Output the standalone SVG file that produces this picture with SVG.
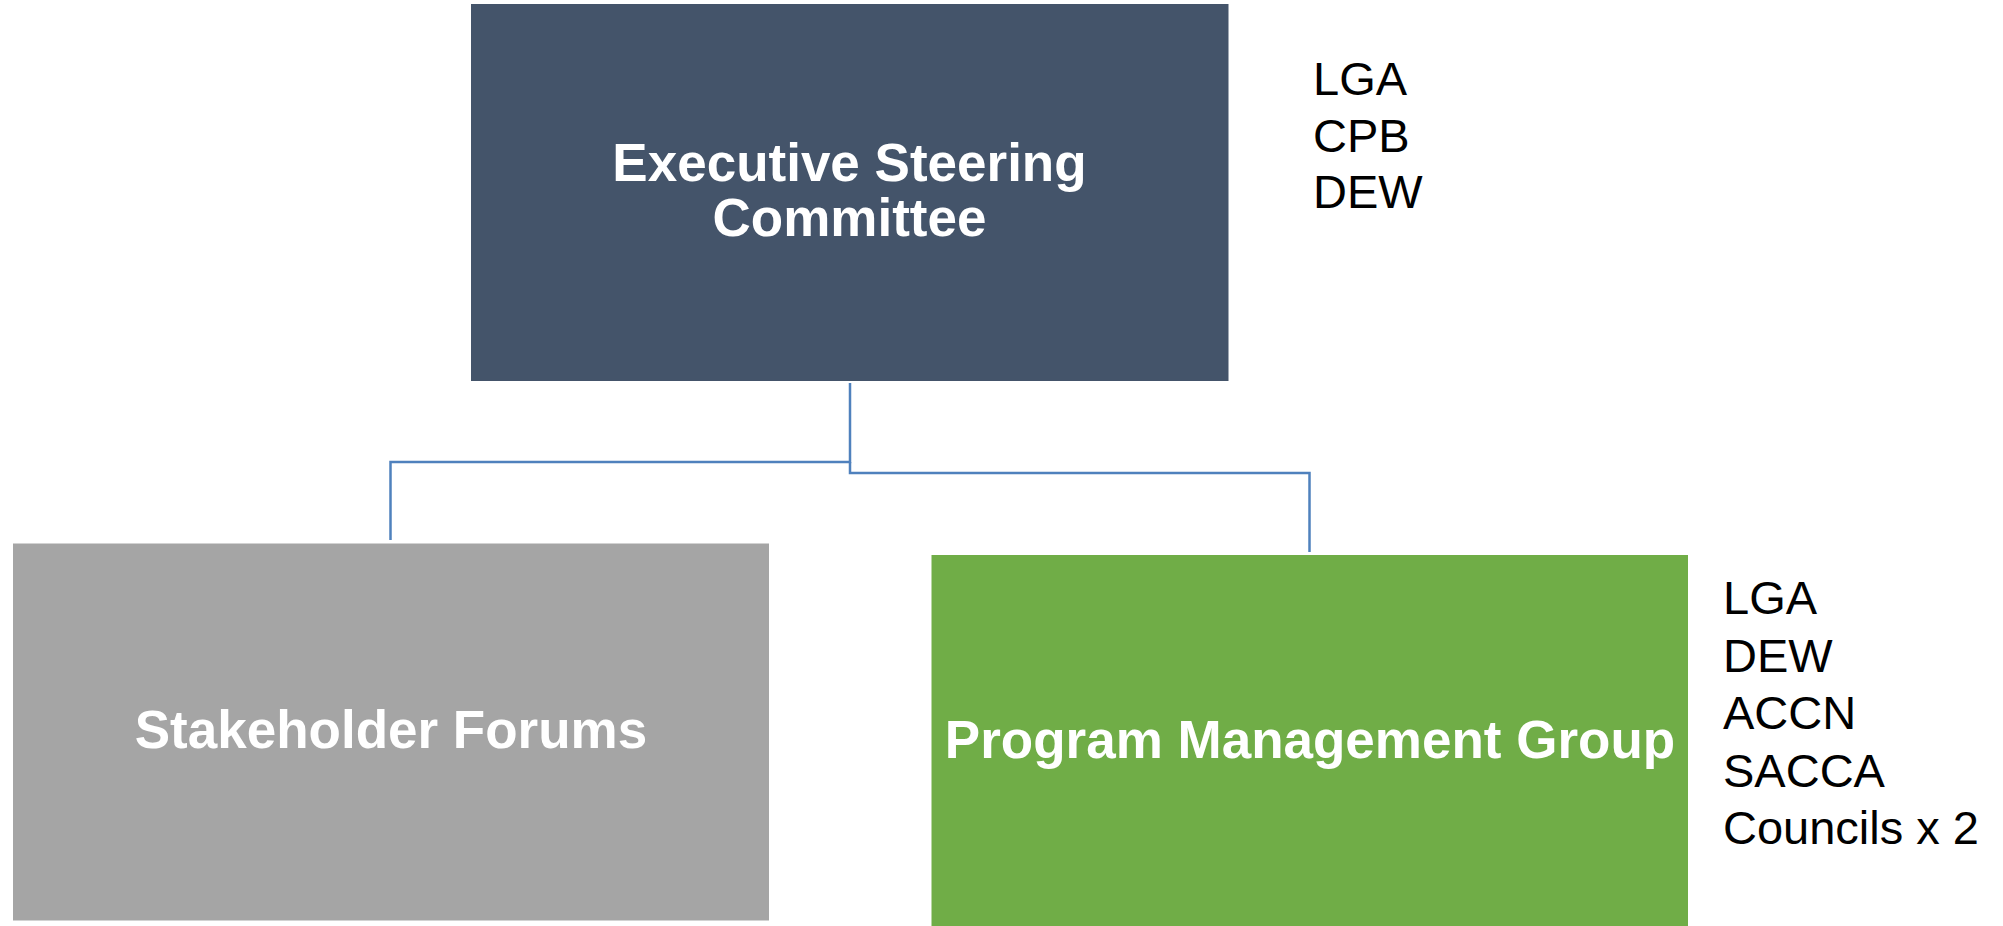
<svg xmlns="http://www.w3.org/2000/svg" width="2003" height="926" viewBox="0 0 2003 926">
<style>
.box-label{font-family:"Liberation Sans",Arial,sans-serif;font-weight:bold;font-size:53px;fill:#ffffff;text-anchor:middle}
.list{font-family:"Liberation Sans",Arial,sans-serif;font-size:47px;fill:#000000}
.conn{fill:none;stroke:#4F81BD;stroke-width:2.5}
</style>
<rect x="0" y="0" width="2003" height="926" fill="#ffffff"/>
<g id="connectors">
<polyline class="conn" points="850,383 850,462 390.5,462 390.5,540"/>
<polyline class="conn" points="850,462 850,473 1309.5,473 1309.5,552"/>
</g>
<g id="executive-steering-committee">
<rect x="471" y="4" width="757.5" height="377" fill="#44546A"/>
<text class="box-label" x="849.5" y="181">Executive Steering</text>
<text class="box-label" x="849.5" y="236">Committee</text>
</g>
<g id="stakeholder-forums">
<rect x="13" y="543.5" width="756" height="377" fill="#A5A5A5"/>
<text class="box-label" x="391" y="748">Stakeholder Forums</text>
</g>
<g id="program-management-group">
<rect x="931.5" y="555" width="756.5" height="377" fill="#70AD47"/>
<text class="box-label" x="1310" y="758">Program Management Group</text>
</g>
<g id="executive-members">
<text class="list" x="1313" y="95">LGA</text>
<text class="list" x="1313" y="151.5">CPB</text>
<text class="list" x="1313" y="208">DEW</text>
</g>
<g id="program-members">
<text class="list" x="1723" y="614">LGA</text>
<text class="list" x="1723" y="671.5">DEW</text>
<text class="list" x="1723" y="729">ACCN</text>
<text class="list" x="1723" y="786.5">SACCA</text>
<text class="list" x="1723" y="844">Councils x 2</text>
</g>
</svg>
